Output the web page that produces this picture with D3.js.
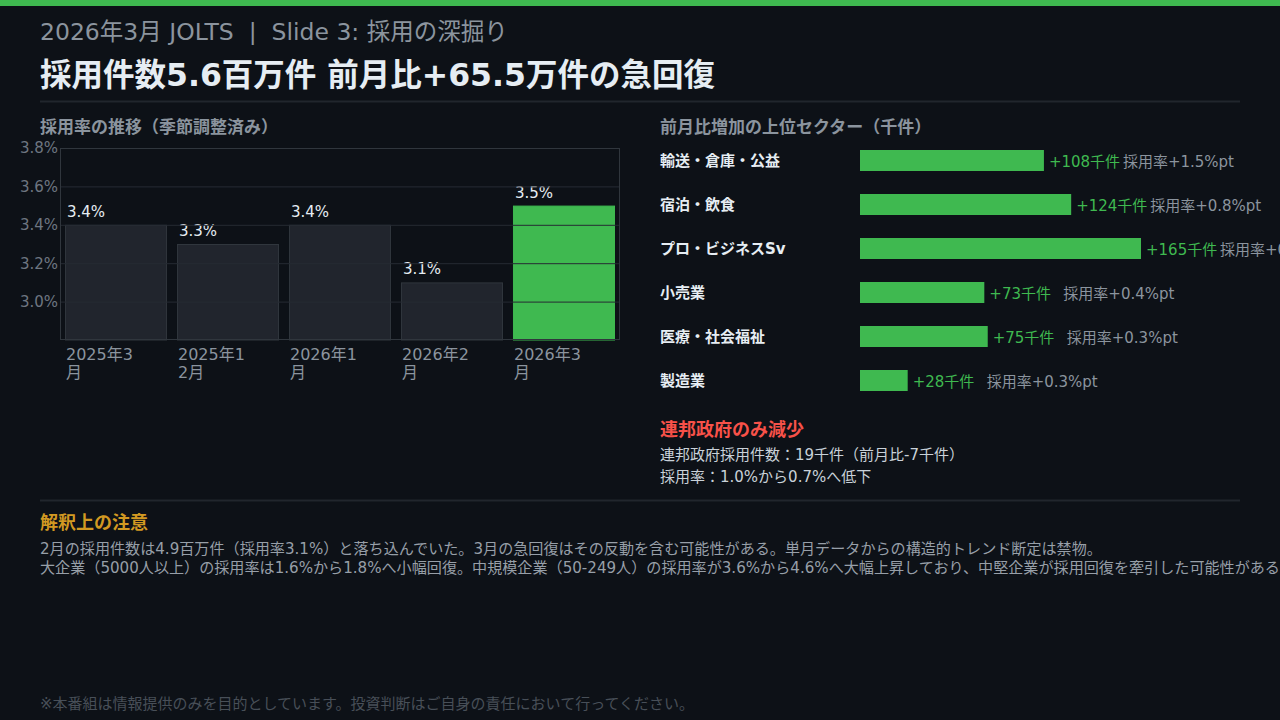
<!DOCTYPE html>
<html><head><meta charset="utf-8">
<script src="https://cdn.jsdelivr.net/npm/d3@7"></script>
<style>
html,body{margin:0;padding:0;background:#0d1117;}
svg{display:block;font-family:"DejaVu Sans","Noto Sans CJK JP",sans-serif;}
</style></head>
<body>
<svg id="c" width="1280" height="720"></svg>
<script>
// ---- data ----
const rateMonths = ["2025年3月","2025年12月","2026年1月","2026年2月","2026年3月"];
const rateValues = [3.4, 3.3, 3.4, 3.1, 3.5];
const rateTicks = [3.0, 3.2, 3.4, 3.6, 3.8];
const sectors = ["輸送・倉庫・公益","宿泊・飲食","プロ・ビジネスSv","小売業","医療・社会福祉","製造業"];
const sectorGain = [108, 124, 165, 73, 75, 28];
const sectorRateChange = ["+1.5","+0.8","+0.6","+0.4","+0.3","+0.3"];
const fedLines = ["連邦政府採用件数：19千件（前月比-7千件）","採用率：1.0%から0.7%へ低下"];
const noteLines = [
 "2月の採用件数は4.9百万件（採用率3.1%）と落ち込んでいた。3月の急回復はその反動を含む可能性がある。単月データからの構造的トレンド断定は禁物。",
 "大企業（5000人以上）の採用率は1.6%から1.8%へ小幅回復。中規模企業（50-249人）の採用率が3.6%から4.6%へ大幅上昇しており、中堅企業が採用回復を牽引した可能性がある。"
];

const GREEN="#3fb950", GRAY="#8b949e", WHITE="#e6edf3";
const svg = d3.select("#c");
svg.append("rect").attr("width",1280).attr("height",720).attr("fill","#0d1117");
svg.append("rect").attr("width",1280).attr("height",6).attr("fill",GREEN);

svg.append("text").attr("x",40).attr("y",40).attr("font-size",23.5).attr("fill",GRAY)
  .attr("xml:space","preserve").style("white-space","pre")
  .text("2026年3月 JOLTS  |  Slide 3: 採用の深掘り");
svg.append("text").attr("x",40).attr("y",86).attr("font-size",31.5).attr("font-weight",700).attr("fill",WHITE)
  .text("採用件数5.6百万件 前月比+65.5万件の急回復");
svg.append("line").attr("x1",40).attr("x2",1240).attr("y1",101.5).attr("y2",101.5).attr("stroke","#21262d").attr("stroke-width",2);

// ---- left chart ----
svg.append("text").attr("x",40).attr("y",133).attr("font-size",17).attr("font-weight",700).attr("fill",GRAY)
  .text("採用率の推移（季節調整済み）");
const L={l:60,r:620,t:148,b:340};
const x=d3.scaleBand().domain(rateMonths).range([L.l,L.r]).paddingInner(0.089).paddingOuter(0.0446);
const y=d3.scaleLinear().domain([2.8,3.8]).range([L.b,L.t]);
const g=svg.append("g");
g.selectAll("rect.bar").data(rateValues).join("rect")
  .attr("x",(d,i)=>x(rateMonths[i])+0.5).attr("width",x.bandwidth()-1)
  .attr("y",d=>y(d)+0.5).attr("height",d=>L.b-y(d)-0.5)
  .attr("fill",(d,i)=>i===rateValues.length-1?GREEN:"#21252d")
  .attr("stroke",(d,i)=>i===rateValues.length-1?GREEN:"#30363d");
// grid over bars
const yAxis=d3.axisLeft(y).tickValues(rateTicks).tickSize(-(L.r-L.l)).tickFormat(d=>d.toFixed(1)+"%");
const ya=svg.append("g").attr("transform",`translate(${L.l},0)`).call(yAxis)
  .attr("font-family",null).attr("font-size",null);
ya.select(".domain").remove();
ya.selectAll(".tick line").attr("stroke","#262b33").attr("stroke-width",1);
ya.selectAll(".tick text").attr("x",-2).attr("font-size",15).attr("fill","#6e7681");
// frame
svg.append("rect").attr("x",L.l+0.5).attr("y",L.t+0.5).attr("width",L.r-L.l-1).attr("height",L.b-L.t-1)
  .attr("fill","none").attr("stroke","#30363d");
// value labels
g.selectAll("text.v").data(rateValues).join("text")
  .attr("x",(d,i)=>x(rateMonths[i])+2).attr("y",d=>y(d)-8)
  .attr("font-size",15).attr("fill",WHITE).text(d=>d.toFixed(1)+"%");
// x labels with wrapping
const xl=svg.append("g");
rateMonths.forEach((m,i)=>{
  const t=xl.append("text").attr("x",x(m)+1).attr("y",360).attr("font-size",16).attr("fill",GRAY);
  let lines=[],cur="";
  const probe=svg.append("text").attr("font-size",16);
  for(const ch of m){
    probe.text(cur+ch);
    if(probe.node().getComputedTextLength()>72 && cur){lines.push(cur);cur=ch;} else cur+=ch;
  }
  lines.push(cur); probe.remove();
  lines.forEach((ln,k)=>t.append("tspan").attr("x",x(m)+1).attr("dy",k?18:0).text(ln));
});

// ---- right chart ----
svg.append("text").attr("x",660).attr("y",133).attr("font-size",17).attr("font-weight",700).attr("fill",GRAY)
  .text("前月比増加の上位セクター（千件）");
const bx=d3.scaleLinear().domain([0,165]).range([860,1141]);
const by=d3.scaleBand().domain(sectors).range([150,414]);
const rows=svg.append("g");
sectors.forEach((s,i)=>{
  const yy=by(s), h=21, cy=yy+h/2;
  rows.append("text").attr("x",660).attr("y",cy+5).attr("font-size",15).attr("font-weight",700).attr("fill",WHITE).text(s);
  rows.append("rect").attr("x",bx(0)).attr("y",yy).attr("width",bx(sectorGain[i])-bx(0)).attr("height",h).attr("fill",GREEN);
  const ex=bx(sectorGain[i]);
  rows.append("text").attr("x",ex+5).attr("y",cy+6).attr("font-size",15).attr("fill",GREEN).text("+"+sectorGain[i]+"千件");
  rows.append("text").attr("x",ex+79).attr("y",cy+6).attr("font-size",15).attr("fill",GRAY).text("採用率"+sectorRateChange[i]+"%pt");
});
svg.append("text").attr("x",660).attr("y",436).attr("font-size",18).attr("font-weight",700).attr("fill","#f85149").text("連邦政府のみ減少");
fedLines.forEach((t,i)=>svg.append("text").attr("x",660).attr("y",460+i*22).attr("font-size",15).attr("fill","#c9d1d9").text(t));

svg.append("line").attr("x1",40).attr("x2",1240).attr("y1",500.5).attr("y2",500.5).attr("stroke","#21262d").attr("stroke-width",2);
svg.append("text").attr("x",40).attr("y",529).attr("font-size",18).attr("font-weight",700).attr("fill","#d29922").text("解釈上の注意");
noteLines.forEach((t,i)=>svg.append("text").attr("x",40).attr("y",554+i*19).attr("font-size",15.1).attr("fill","#979fa8").text(t));
svg.append("text").attr("x",40).attr("y",709).attr("font-size",15).attr("fill","#484f58")
  .text("※本番組は情報提供のみを目的としています。投資判断はご自身の責任において行ってください。");
</script>
</body></html>
